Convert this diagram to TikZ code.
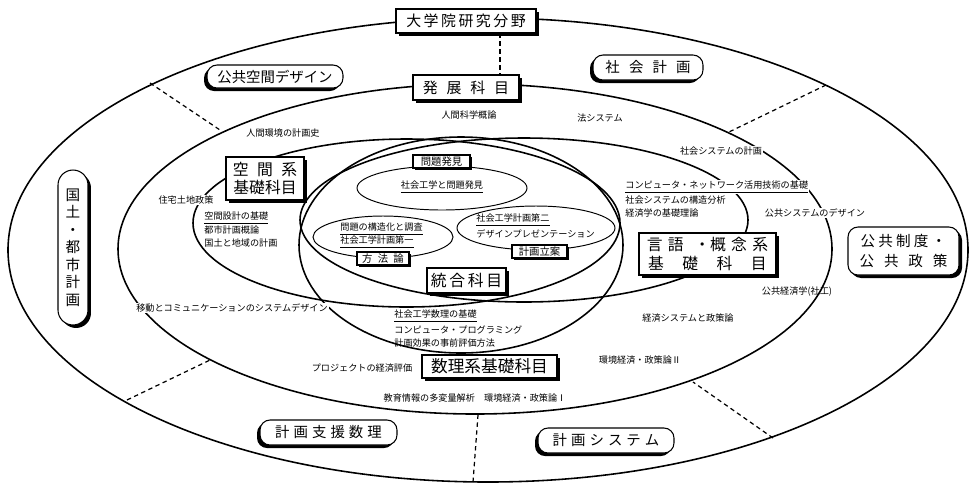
\documentclass[tikz,border=0pt]{standalone}
\usepackage{fontspec}
\setmainfont{Noto Sans CJK JP}
\usetikzlibrary{shadows}

\begin{document}
\begin{tikzpicture}[x=0.02cm, y=-0.02cm,
  ring/.style={line width=0.9pt},
  sep/.style={line width=0.7pt, dash pattern=on 2.5pt off 2pt},
  kbox/.style={draw, fill=white, line width=0.6pt, inner sep=0pt, align=center},
  rshadow/.style={drop shadow={shadow xshift=#1, shadow yshift=-#1, opacity=1, fill=black}},
  rshadow/.default=0.06cm,
  lshadow/.style={drop shadow={shadow xshift=-#1, shadow yshift=-#1, opacity=1, fill=black}},
  lshadow/.default=0.06cm,
  bunya/.style={kbox, rounded corners=0.2cm, font=\fontsize{8.2}{10}\selectfont},
  txt/.style={font=\fontsize{5.2}{6.5}\selectfont, inner sep=0.6pt, fill=white}]
\useasboundingbox (0,0) rectangle (976,495);
\draw[ring] (488,250) ellipse [x radius=480, y radius=232];
\draw[ring] (475,249) ellipse [x radius=357, y radius=165];
\draw[ring] (406.5,223) ellipse [x radius=213.5, y radius=84];
\draw[ring] (524,220) ellipse [x radius=224, y radius=82];
\draw[ring] (461,245) ellipse [x radius=162, y radius=108];
\draw[line width=0.55pt] (442,188) ellipse [x radius=85, y radius=22];
\draw[line width=0.55pt] (383,237) ellipse [x radius=70, y radius=21];
\draw[line width=0.55pt] (536,228) ellipse [x radius=79, y radius=22];
\coordinate (tlo) at (150,83);  \coordinate (tli) at (220,130);
\coordinate (tro) at (826,85);  \coordinate (tri) at (729,132);
\coordinate (blo) at (127,400); \coordinate (bli) at (210,360);
\coordinate (bo) at (473,482);  \coordinate (bi) at (478,415);
\coordinate (bro) at (773,438); \coordinate (bri) at (693,382);
\draw[sep] (tlo)--(tli);
\draw[sep] (tro)--(tri);
\draw[sep] (blo)--(bli);
\draw[sep] (bo)--(bi);
\draw[sep] (bro)--(bri);
\path
(466,21) node[kbox, rshadow, minimum width=2.8cm, minimum height=0.48cm, font=\fontsize{8.5}{10}\selectfont] (daigakuin) {大\,学\,院\,研\,究\,分\,野};
\path
(466,87.5) node[kbox, rshadow, minimum width=2.12cm, minimum height=0.5cm, font=\fontsize{8.5}{10}\selectfont] (hatten) {発\hspace{5pt}展\hspace{5pt}科\hspace{5pt}目};
\draw[sep] ([xshift=0.68cm]daigakuin.south)--([xshift=0.68cm]hatten.north);
\path
(265,178.5) node[kbox, rshadow, minimum width=1.56cm, minimum height=0.86cm, font=\fontsize{9}{10.5}\selectfont] (kukan) {空\hspace{4.8pt}間\hspace{4.8pt}系\\基礎科目};
\path
(707.5,254) node[kbox, rshadow, minimum width=2.74cm, minimum height=0.84cm, font=\fontsize{9}{11.3}\selectfont] (gengo) {言\hspace{3pt}語\hspace{6pt}・概\hspace{3pt}念\hspace{3pt}系\\基\hspace{10.5pt}礎\hspace{10.5pt}科\hspace{10.5pt}目};
\path
(489.5,366.5) node[kbox, rshadow, minimum width=2.7cm, minimum height=0.46cm, font=\fontsize{9.5}{11}\selectfont] (suri) {数理系基礎科目};
\path
(466.5,280.5) node[kbox, rshadow, minimum width=1.58cm, minimum height=0.5cm, font=\fontsize{9}{11}\selectfont] (togo) {統\,合\,科\,目};
\path
(441.5,161.5) node[kbox, rshadow=0.04cm, minimum width=1.14cm, minimum height=0.26cm, font=\fontsize{5.9}{7}\selectfont] (mondai) {問題発見};
\path
(383,258.5) node[kbox, rshadow=0.04cm, minimum width=1.04cm, minimum height=0.26cm, font=\fontsize{5.9}{7}\selectfont] (hoho) {方\hspace{3pt}法\hspace{3pt}論};
\path
(539.5,251.5) node[kbox, rshadow=0.04cm, minimum width=1.1cm, minimum height=0.26cm, font=\fontsize{5.9}{7}\selectfont] (ritsuan) {計画立案};
\path
(275,76.5) node[bunya, lshadow, minimum width=2.72cm, minimum height=0.46cm] (kukandesign) {公共空間デザイン};
\path
(648,67.5) node[bunya, lshadow, minimum width=2.2cm, minimum height=0.5cm] (shakai) {社\hspace{5.2pt}会\hspace{5.2pt}計\hspace{5.2pt}画};
\path
(73,247.5) node[bunya, rshadow, rounded corners=0.3cm, minimum width=0.6cm, minimum height=3.1cm, font=\fontsize{8.3}{10}\selectfont] (kokudo) {国\\土\\・\\都\\市\\計\\画};
\path
(903.5,251) node[bunya, rshadow, minimum width=2.22cm, minimum height=0.96cm, font=\fontsize{8.3}{11.3}\selectfont] (seido) {公\hspace{1.8pt}共\hspace{1.8pt}制\hspace{1.8pt}度\hspace{1.8pt}・\\公\hspace{5.6pt}共\hspace{5.6pt}政\hspace{5.6pt}策};
\path
(328.5,432.5) node[bunya, lshadow, minimum width=2.74cm, minimum height=0.5cm] (shien) {計\hspace{2.3pt}画\hspace{2.3pt}支\hspace{2.3pt}援\hspace{2.3pt}数\hspace{2.3pt}理};
\path
(606,440.5) node[bunya, lshadow, minimum width=2.72cm, minimum height=0.5cm] (keikakusys) {計\hspace{2.3pt}画\hspace{2.3pt}シ\hspace{2.3pt}ス\hspace{2.3pt}テ\hspace{2.3pt}ム};
\path
(469,115) node[txt] (ningen) {人間科学概論};
\path
(600,118) node[txt] (ho) {法システム};
\path
(283,133) node[txt] (keikakushi) {人間環境の計画史};
\path
(721,151) node[txt] (shakaisys) {社会システムの計画};
\path
(624,187) node[txt, anchor=west] (network) {\underline{コンピュータ・ネットワーク活用技術の基礎}};
\path
(624,200) node[txt, anchor=west, fill=none] (kozo) {社会システムの構造分析};
\path
(624,213) node[txt, anchor=west, fill=none] (keizaigaku) {経済学の基礎理論};
\path
(815,213) node[txt] (kokyosys) {公共システムのデザイン};
\path
(186,200) node[txt] (jutaku) {住宅土地政策};
\path
(203,218) node[txt, anchor=west, fill=none] (sekkei) {\underline{空間設計の基礎}};
\path
(203,230) node[txt, anchor=west, fill=none] (toshi) {都市計画概論};
\path
(203,243) node[txt, anchor=west, fill=none] (chiiki) {国土と地域の計画};
\path
(232,308) node[txt] (ido) {移動とコミュニケーションのシステムデザイン};
\path
(393,316) node[txt, anchor=west, fill=none] (surikiso) {\underline{社会工学数理の基礎}};
\path
(393,330) node[txt, anchor=west, fill=none] (program) {コンピュータ・プログラミング};
\path
(393,343) node[txt, anchor=west, fill=none] (jizen) {計画効果の事前評価方法};
\path
(362,368) node[txt] (project) {プロジェクトの経済評価};
\path
(475,398) node[txt] (tahenryo) {教育情報の多変量解析　環境経済・政策論Ⅰ};
\path
(797,292) node[txt, fill=none] (kokyokeizai) {公共経済学(社工)};
\path
(688,318) node[txt] (keizaisys) {経済システムと政策論};
\path
(640,360) node[txt] (kankyo) {環境経済・政策論Ⅱ};
\path
(442,187) node[txt, fill=none] (hakken) {\underline{社会工学と問題発見}};
\path
(339,229) node[txt, anchor=west, fill=none] (kozoka) {\underline{問題の構造化と調査}};
\path
(339,242) node[txt, anchor=west, fill=none] (daiichi) {\underline{社会工学計画第一}};
\path
(475,220) node[txt, anchor=west, fill=none] (daini) {\underline{社会工学計画第二}};
\path
(475,234) node[txt, anchor=west, fill=none] (present) {デザインプレゼンテーション};
\end{tikzpicture}
\end{document}
